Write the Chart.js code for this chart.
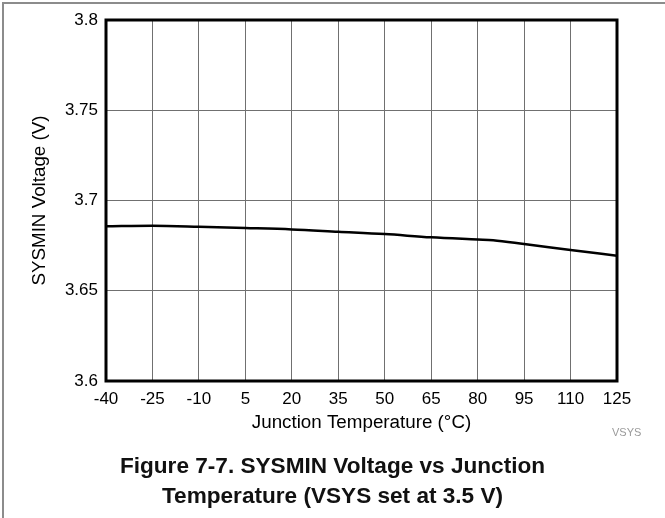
<!DOCTYPE html>
<html>
<head>
<meta charset="utf-8">
<script src="https://cdn.jsdelivr.net/npm/chart.js@4"></script>
<style>
  html, body { margin: 0; padding: 0; background: #fff; }
  #wrap { position: relative; width: 665px; height: 518px; overflow: hidden; background: #fff; font-family: "Liberation Sans", Arial, sans-serif; }
  #cv { position: absolute; left: 0; top: 0; }
  .bt { position: absolute; left: 2px; top: 2px; width: 663px; height: 2px; background: #8c8c8c; }
  .bl { position: absolute; left: 2px; top: 2px; width: 2px; height: 516px; background: #8c8c8c; }
  #vsys { position: absolute; left: 612px; top: 426px; font-size: 11px; color: #9a9a9a; }
  #cap { position: absolute; left: 0; width: 665px; top: 451px; text-align: center; font-weight: bold; font-size: 22.6px; line-height: 30px; color: #111; }
</style>
</head>
<body>
<div id="wrap">
  <canvas id="cv" width="665" height="518"></canvas>
  <div class="bt"></div>
  <div class="bl"></div>
  <div id="vsys">VSYS</div>
  <div id="cap">Figure 7-7. SYSMIN Voltage vs Junction<br>Temperature (VSYS set at 3.5 V)</div>
</div>
<script>
// Data
const temperatures = [-40, -25, -10, 5, 20, 35, 50, 65, 80, 85, 95, 110, 125];
const sysminVoltage = [3.6857, 3.6860, 3.6855, 3.6848, 3.6840, 3.6827, 3.6814, 3.6796, 3.6784, 3.6780, 3.6759, 3.6726, 3.6694];
const xTickValues = [-40, -25, -10, 5, 20, 35, 50, 65, 80, 95, 110, 125];
const yTickValues = [3.6, 3.65, 3.7, 3.75, 3.8];

const FONT = "'Liberation Sans', Arial, sans-serif";

const framePlugin = {
  id: 'frame',
  afterDraw(chart) {
    const a = chart.chartArea, ctx = chart.ctx;
    ctx.save();
    ctx.strokeStyle = '#000';
    ctx.lineWidth = 3;
    ctx.strokeRect(a.left, a.top, a.right - a.left, a.bottom - a.top);
    ctx.restore();
  }
};

new Chart(document.getElementById('cv'), {
  type: 'line',
  data: {
    datasets: [{
      data: temperatures.map((t, i) => ({ x: t, y: sysminVoltage[i] })),
      borderColor: '#000',
      borderWidth: 2.5,
      pointRadius: 0,
      tension: 0.3,
      cubicInterpolationMode: 'monotone',
      fill: false
    }]
  },
  options: {
    responsive: false,
    animation: false,
    devicePixelRatio: 1,
    layout: { padding: { left: 0, right: 48, top: 20, bottom: 77 } },
    plugins: { legend: { display: false }, tooltip: { enabled: false } },
    scales: {
      x: {
        type: 'linear',
        min: -40, max: 125,
        afterBuildTicks: s => { s.ticks = xTickValues.map(v => ({ value: v })); },
        afterFit: s => { s.height = 60; },
        ticks: { color: '#000', font: { family: FONT, size: 17 }, padding: 8, maxRotation: 0, autoSkip: false },
        grid: { color: '#707070', lineWidth: 1, drawTicks: false },
        border: { display: false },
        title: { display: true, text: 'Junction Temperature (°C)', color: '#000', font: { family: FONT, size: 18.8 }, padding: { top: 0, bottom: 7 } }
      },
      y: {
        type: 'linear',
        min: 3.6, max: 3.8,
        afterBuildTicks: s => { s.ticks = yTickValues.map(v => ({ value: v })); },
        afterFit: s => { s.width = 106; },
        ticks: { color: '#000', font: { family: FONT, size: 17 }, padding: 8, callback: v => String(Math.round(v * 100) / 100) },
        grid: { color: '#707070', lineWidth: 1, drawTicks: false },
        border: { display: false },
        title: { display: true, text: 'SYSMIN Voltage (V)', color: '#000', font: { family: FONT, size: 18.8 }, padding: { top: 29, bottom: 0 } }
      }
    }
  },
  plugins: [framePlugin]
});
</script>
</body>
</html>
